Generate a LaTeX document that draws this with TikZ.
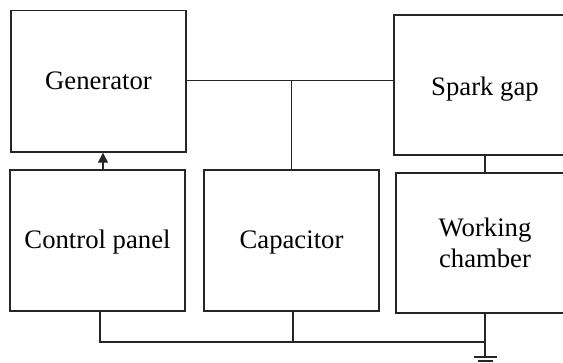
\documentclass[tikz,border=0pt]{standalone}
\usepackage{fontspec}
\setmainfont{Liberation Serif}
\usetikzlibrary{arrows.meta}
\begin{document}
\begin{tikzpicture}[x=1bp,y=-1bp,
  blk/.style={draw=black!85,line width=1.4bp,rectangle,inner sep=0pt,align=center,
    font=\fontsize{26.7bp}{31bp}\selectfont},
  wire/.style={draw=black!85,line width=1.4bp}]
\useasboundingbox (0,0) rectangle (563,362);
\clip (0,0) rectangle (563,362);
\node[blk,minimum width=175bp,minimum height=141.5bp] (gen) at (98.5,81.25) {Generator};
\node[blk,minimum width=182bp,minimum height=140bp] (sg) at (485,85) {\raisebox{-4bp}[\height][\depth]{Spark gap}};
\node[blk,minimum width=175bp,minimum height=141bp] (cp) at (97.5,240.5) {\raisebox{-2bp}[\height][\depth]{Control panel}};
\node[blk,minimum width=175bp,minimum height=141bp] (cap) at (291.5,240.5) {\raisebox{-2bp}[\height][\depth]{Capacitor}};
\node[blk,minimum width=178bp,minimum height=140bp] (wc) at (485,243) {Working\\chamber};
\coordinate (bus) at (485,342);
\coordinate (gnd) at (485,357);
\coordinate (gnd2) at (485,361);
% top bus
\draw[wire] ([yshift=0.75bp]gen.east) -- ([yshift=0.75bp]gen.east -| sg.west);
\draw[wire] (cap.north) -- ([yshift=0.75bp]cap.north |- gen.east);
% spark gap to chamber
\draw[wire] (sg.south) -- (wc.north);
% bottom bus
\draw[wire] ([xshift=2.5bp]cp.south) |- (bus);
\draw[wire] ([xshift=1.5bp]cap.south) -- ([xshift=1.5bp]cap.south |- bus);
\draw[wire] (wc.south) -- (gnd);
% ground
\draw[wire] ([xshift=-11.5bp]gnd) -- ([xshift=11.5bp]gnd);
\draw[wire] ([xshift=-7.5bp]gnd2) -- ([xshift=7.5bp]gnd2);
% arrow
\draw[wire,-{Triangle[length=10bp,width=10bp]}] ([xshift=5.5bp]cp.north) -- ([xshift=5.5bp]cp.north |- gen.south);
\end{tikzpicture}
\end{document}
